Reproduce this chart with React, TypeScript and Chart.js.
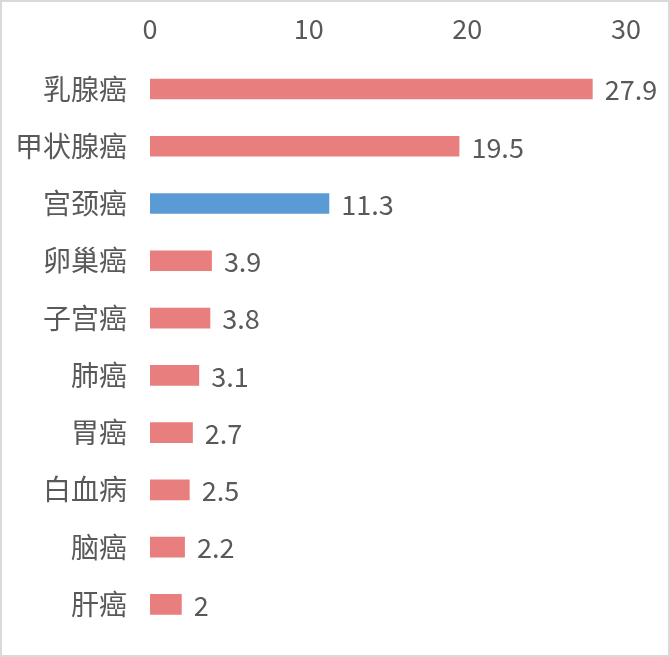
import { useEffect, useRef } from 'react';
import { Chart, registerables, type Plugin } from 'chart.js';

Chart.register(...registerables);

const categories = ['乳腺癌', '甲状腺癌', '宫颈癌', '卵巢癌', '子宫癌', '肺癌', '胃癌', '白血病', '脑癌', '肝癌'];
const values = [27.9, 19.5, 11.3, 3.9, 3.8, 3.1, 2.7, 2.5, 2.2, 2];
const highlighted = ['宫颈癌'];

const PINK = '#E87E7E';
const BLUE = '#5B9BD5';
const TEXT = '#595959';
const FONT = "'Noto Sans CJK SC', 'Noto Sans', sans-serif";

const valueLabels: Plugin<'bar'> = {
  id: 'valueLabels',
  afterDatasetsDraw(chart) {
    const { ctx } = chart;
    const meta = chart.getDatasetMeta(0);
    ctx.save();
    ctx.font = `27px ${FONT}`;
    ctx.fillStyle = TEXT;
    ctx.textAlign = 'left';
    ctx.textBaseline = 'middle';
    meta.data.forEach((bar, i) => {
      ctx.fillText(String(values[i]), bar.x + 12, bar.y + 1);
    });
    ctx.restore();
  },
};

export default function App() {
  const canvasRef = useRef<HTMLCanvasElement>(null);

  useEffect(() => {
    document.body.style.margin = '0';
    if (!canvasRef.current) return;
    const chart = new Chart(canvasRef.current, {
      type: 'bar',
      data: {
        labels: categories,
        datasets: [
          {
            data: values,
            backgroundColor: categories.map((c) => (highlighted.includes(c) ? BLUE : PINK)),
            categoryPercentage: 0.36,
            barPercentage: 1,
          },
        ],
      },
      options: {
        indexAxis: 'y',
        responsive: true,
        maintainAspectRatio: false,
        animation: false,
        layout: { padding: { top: -4, right: 42, bottom: 22, left: 6 } },
        scales: {
          x: {
            position: 'top',
            min: 0,
            max: 30,
            grid: { display: false, drawTicks: false },
            border: { display: false },
            ticks: {
              stepSize: 10,
              color: TEXT,
              padding: 15,
              font: { family: FONT, size: 27 },
              maxRotation: 0,
            },
          },
          y: {
            grid: { display: false, drawTicks: false },
            border: { display: false },
            afterFit: (scale) => {
              scale.width = 142;
              scale.paddingTop = 0;
              scale.paddingBottom = 0;
            },
            ticks: {
              color: TEXT,
              padding: 23,
              font: { family: FONT, size: 28 },
            },
          },
        },
        plugins: {
          legend: { display: false },
          tooltip: { enabled: false },
        },
      },
      plugins: [valueLabels],
    });
    return () => chart.destroy();
  }, []);

  return (
    <div
      style={{
        width: 670,
        height: 657,
        boxSizing: 'border-box',
        border: '2px solid #d9d9d9',
        background: '#fff',
        position: 'relative',
      }}
    >
      <canvas ref={canvasRef} />
    </div>
  );
}
